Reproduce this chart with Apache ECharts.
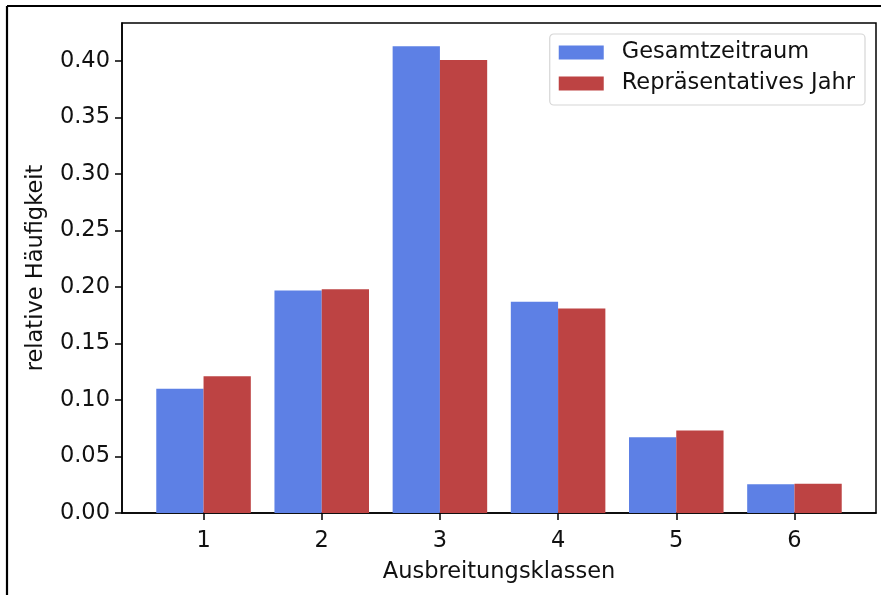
<!DOCTYPE html>
<html>
<head>
<meta charset="utf-8">
<script src="https://cdn.jsdelivr.net/npm/echarts@6/dist/echarts.min.js"></script>
<style>
  html, body { margin: 0; padding: 0; background: #fff; }
  #chart { width: 881px; height: 595px; }
</style>
</head>
<body>
<div id="chart"></div>
<script>
// Relative frequencies per dispersion class
const klassen = [1, 2, 3, 4, 5, 6];
const gesamtzeitraum = [0.110, 0.197, 0.413, 0.187, 0.067, 0.0254];
const repraesentativ = [0.121, 0.198, 0.401, 0.181, 0.073, 0.0258];
const yTicks = [0, 0.05, 0.10, 0.15, 0.20, 0.25, 0.30, 0.35, 0.40];
const seriesNames = ['Gesamtzeitraum', 'Repräsentatives Jahr'];

const FONT = 'DejaVu Sans';
const FS = 22.5;

const grid = { left: 122, right: 5, top: 23, bottom: 82 };
const W = 881, H = 595;

// x range with 5 % margin around the bar extents (bar width 0.4 per series)
const halfSpan = 0.4;
const lo = klassen[0] - halfSpan, hi = klassen[klassen.length - 1] + halfSpan;
const xMin = lo - 0.05 * (hi - lo), xMax = hi + 0.05 * (hi - lo);
const yMax = 1.05 * Math.max(...gesamtzeitraum, ...repraesentativ);

const plotW = W - grid.left - grid.right;
const barW = 0.4 * plotW / (xMax - xMin);

const chart = echarts.init(document.getElementById('chart'), null, { renderer: 'canvas' });

chart.setOption({
  animation: false,
  backgroundColor: '#fff',
  textStyle: { fontFamily: FONT },
  grid: Object.assign({ show: true, borderColor: '#000', borderWidth: 1.5, containLabel: false }, grid),
  legend: {
    right: W - 865,
    top: 34,
    orient: 'vertical',
    itemWidth: 45,
    itemHeight: 14,
    itemGap: 6,
    padding: [6, 10, 9, 9],
    backgroundColor: '#fff',
    borderColor: '#d6d6d6',
    borderWidth: 1.2,
    borderRadius: 4,
    icon: 'rect',
    textStyle: { fontFamily: FONT, fontSize: FS, color: '#111', lineHeight: 25, padding: [0, 0, 0, 13] },
    data: seriesNames
  },
  xAxis: {
    type: 'value',
    min: xMin,
    max: xMax,
    name: 'Ausbreitungsklassen',
    nameLocation: 'middle',
    nameGap: 48,
    nameTextStyle: { fontFamily: FONT, fontSize: FS, color: '#111' },
    axisLine: { show: true, onZero: false, lineStyle: { color: '#000', width: 1.5 } },
    axisTick: { show: true, length: 7, customValues: klassen, lineStyle: { color: '#000', width: 1.5 } },
    axisLabel: { customValues: klassen, margin: 17, fontFamily: FONT, fontSize: FS, color: '#111',
                 formatter: v => String(v) },
    splitLine: { show: false }
  },
  yAxis: {
    type: 'value',
    min: 0,
    max: yMax,
    name: 'relative Häufigkeit',
    nameLocation: 'middle',
    nameGap: 74,
    nameTextStyle: { fontFamily: FONT, fontSize: FS, color: '#111' },
    axisLine: { show: true, lineStyle: { color: '#000', width: 1.5 } },
    axisTick: { show: true, length: 7, customValues: yTicks, lineStyle: { color: '#000', width: 1.5 } },
    axisLabel: { customValues: yTicks, margin: 12, fontFamily: FONT, fontSize: FS, color: '#111',
                 formatter: v => v.toFixed(2) },
    splitLine: { show: false }
  },
  series: [
    {
      name: seriesNames[0],
      type: 'bar',
      barWidth: barW,
      barGap: '0%',
      itemStyle: { color: '#5d80e5' },
      data: klassen.map((k, i) => [k, gesamtzeitraum[i]])
    },
    {
      name: seriesNames[1],
      type: 'bar',
      barWidth: barW,
      barGap: '0%',
      itemStyle: { color: '#bd4343' },
      data: klassen.map((k, i) => [k, repraesentativ[i]])
    }
  ],
  graphic: [
    { type: 'line', z: 100, shape: { x1: 7, y1: 6, x2: W, y2: 6 }, style: { stroke: '#000', lineWidth: 2.2 } },
    { type: 'line', z: 100, shape: { x1: 7, y1: 6, x2: 7, y2: H }, style: { stroke: '#000', lineWidth: 2.2 } }
  ]
});
</script>
</body>
</html>
